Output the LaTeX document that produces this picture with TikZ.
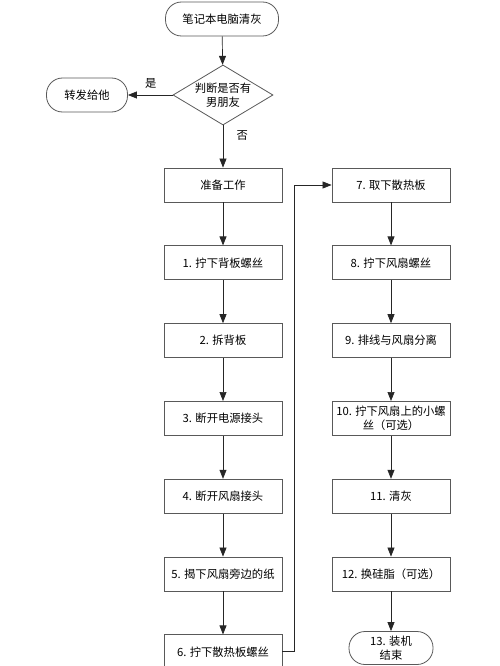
\documentclass[tikz,border=0pt]{standalone}
\usepackage{fontspec}
\newfontfamily\cjk{Noto Sans CJK SC}
\usetikzlibrary{shapes.geometric,chains,positioning,arrows.meta}

\begin{document}
\begin{tikzpicture}[>={Triangle[length=9pt,width=7pt]}, font=\cjk\fontsize{11.3}{13.5}\selectfont,
          box/.style={rectangle, draw=black!65, line width=0.8pt,
            minimum width=118pt, minimum height=34pt, on chain},
          term/.style={rectangle, rounded corners=16pt, draw=black!65,
            line width=0.8pt, minimum height=34pt},
          decide/.style={diamond, draw=black!65, line width=0.8pt,
            aspect=1.67, inner sep=0pt, minimum width=100pt, minimum height=60pt, align=center},
          link/.style={->, line width=0.7pt, draw=black!85}]

          \useasboundingbox (0,0) rectangle (500pt,-666pt);

          \node[term, minimum width=113pt] (start) at (222pt,-19pt) {笔记本电脑清灰};
          \node[decide] (ask) at (223pt,-95pt) {判断是否有\\男朋友};
          \node[term, minimum width=81pt] (pass) at (87pt,-95pt) {转发给他};

          % left column
          \begin{scope}[start chain=left going below, node distance=43pt]
            \node[box] (s0) at (223pt,-185pt) {准备工作};
            \node[box] (s1) {1. 拧下背板螺丝};
            \node[box] (s2) {2. 拆背板};
            \node[box] (s3) {3. 断开电源接头};
            \node[box] (s4) {4. 断开风扇接头};
            \node[box] (s5) {5. 揭下风扇旁边的纸};
            \node[box] (s6) {6. 拧下散热板螺丝};
          \end{scope}

          % right column
          \begin{scope}[start chain=right going below, node distance=43pt]
            \node[box] (s7) at (391pt,-185pt) {7. 取下散热板};
            \node[box] (s8) {8. 拧下风扇螺丝};
            \node[box] (s9) {9. 排线与风扇分离};
            \node[box, align=center, inner sep=0pt] (s10) {10. 拧下风扇上的小螺\\丝（可选）};
            \node[box] (s11) {11. 清灰};
            \node[box] (s12) {12. 换硅脂（可选）};
          \end{scope}
          \node[term, minimum width=84pt, minimum height=33pt, align=center, inner sep=0pt]
            (s13) at (391pt,-648pt) {13. 装机\\结束};

          \draw[link] (start) -- (ask);
          \draw[link] (ask) -- node[above left=3pt and 8pt, pos=0.1] {是} (pass);
          \draw[link] (ask) -- node[right=10pt, pos=0.25] {否} (s0);
          \foreach \a/\b in {s0/s1,s1/s2,s2/s3,s3/s4,s4/s5,s5/s6,
                             s7/s8,s8/s9,s9/s10,s10/s11,s11/s12,s12/s13}
            \draw[link] (\a) -- (\b);
          \draw[link] (s6.east) -- ++(12pt,0) |- (s7.west);
        \end{tikzpicture}
\end{document}
